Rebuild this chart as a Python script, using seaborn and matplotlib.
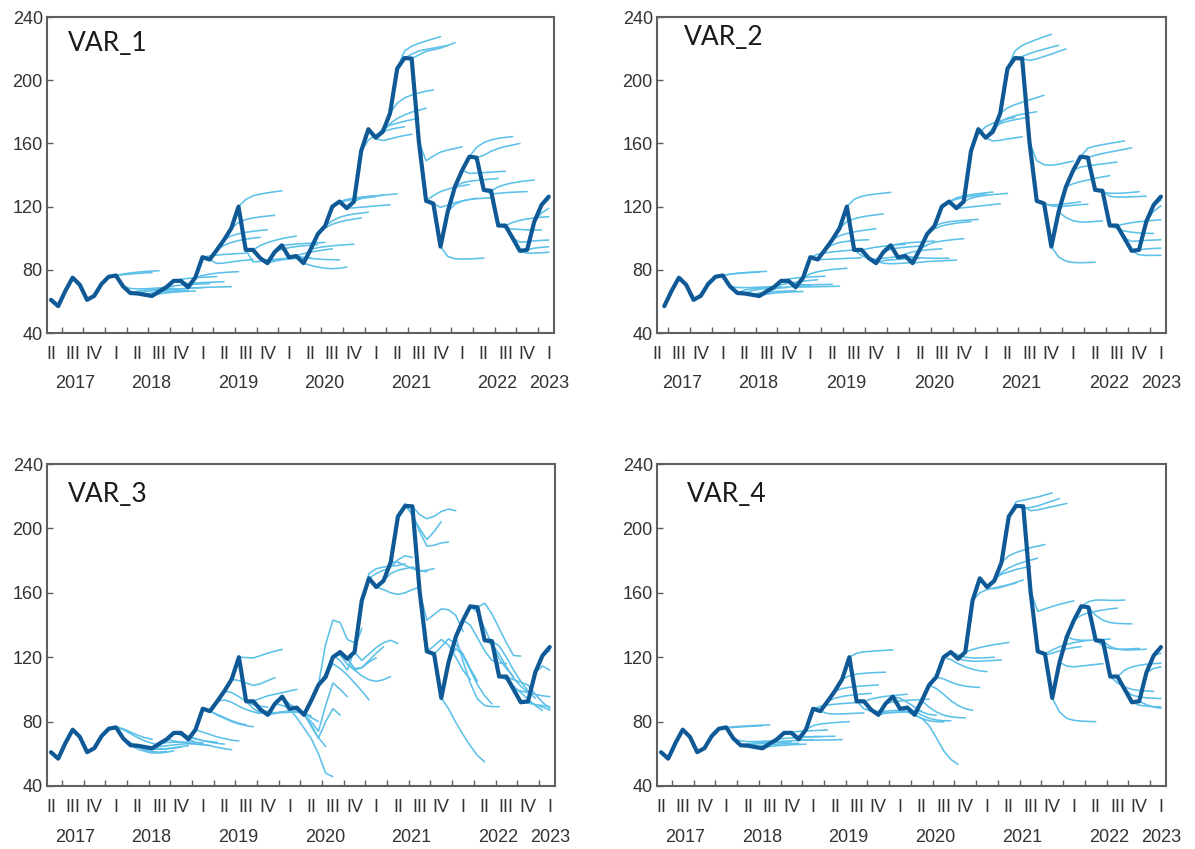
import matplotlib
matplotlib.use("Agg")
import matplotlib.pyplot as plt
import matplotlib.transforms as mtransforms
import pandas as pd
import seaborn as sns

# Monthly observations, April 2017 - January 2023
months = pd.period_range("2017-04", "2023-01", freq="M")
actual = [61.0, 57.0, 66.7, 75.0, 70.5, 61.0, 63.5, 71.0, 75.6, 76.4,
          69.5, 65.3, 65.0, 64.2, 63.4, 66.3, 69.0, 73.0, 73.0, 69.0,
          75.0, 88.0, 86.5, 92.6, 99.0, 106.3, 120.0, 92.6, 92.6, 87.4,
          84.2, 91.2, 95.5, 87.9, 88.7, 84.2, 93.0, 102.7, 107.7, 120.0,
          123.2, 119.0, 123.2, 155.2, 169.0, 163.6, 167.4, 179.0, 207.4, 214.0,
          213.7, 161.0, 123.6, 122.0, 94.7, 116.8, 132.6, 143.0, 151.6, 151.0,
          130.5, 130.0, 108.0, 108.0, 100.0, 92.0, 92.6, 110.5, 121.0, 126.3]

# Forecast origins (month index); each path holds the next six months
fc_origins = list(range(8, 69))

var1_fc = [
    [76.3, 76.9, 77.3, 77.7, 78.0, 78.2], [77.4, 78.0, 78.5, 78.9, 79.2, 79.4],
    [68.2, 67.9, 68.0, 68.2, 68.5, 68.8], [66.4, 67.1, 67.5, 67.8, 68.1, 68.3],
    [66.1, 66.7, 67.1, 67.5, 67.8, 68.0], [65.3, 65.9, 66.3, 66.6, 66.9, 67.1],
    [64.7, 65.4, 65.8, 66.1, 66.4, 66.6], [67.2, 67.7, 68.0, 68.3, 68.5, 68.7],
    [69.8, 70.3, 70.6, 70.9, 71.1, 71.3], [74.0, 74.6, 75.0, 75.3, 75.5, 75.7],
    [71.3, 71.6, 71.9, 72.1, 72.3, 72.5], [68.6, 68.8, 69.0, 69.1, 69.2, 69.3],
    [76.4, 77.3, 77.9, 78.3, 78.6, 78.8], [88.8, 89.3, 89.7, 90.0, 90.3, 90.5],
    [84.0, 84.3, 85.0, 85.6, 86.1, 86.5], [95.6, 97.3, 98.5, 99.4, 100.0, 100.6],
    [101.5, 102.8, 103.7, 104.4, 104.9, 105.4], [110.0, 111.8, 112.8, 113.5, 114.0, 114.5],
    [124.5, 126.8, 127.9, 128.7, 129.4, 130.0], [85.0, 85.3, 86.0, 86.6, 87.0, 87.4],
    [95.3, 97.2, 98.6, 99.7, 100.6, 101.3], [86.0, 86.3, 86.8, 87.2, 87.5, 87.8],
    [85.5, 86.3, 86.8, 87.2, 87.5, 87.7], [93.0, 94.0, 94.7, 95.2, 95.6, 95.9],
    [95.9, 96.3, 96.6, 96.9, 97.1, 97.3], [89.0, 90.2, 91.2, 92.0, 92.7, 93.3],
    [87.8, 87.2, 86.8, 86.5, 86.4, 86.3], [82.8, 81.7, 81.0, 80.7, 81.0, 81.7],
    [94.0, 94.7, 95.2, 95.6, 95.9, 96.2], [106.5, 108.8, 110.3, 111.3, 112.1, 112.8],
    [111.0, 113.2, 114.5, 115.3, 115.9, 116.4], [122.5, 123.8, 124.6, 125.2, 125.8, 126.3],
    [124.5, 125.4, 126.0, 126.5, 126.8, 127.1], [119.2, 119.6, 120.0, 120.4, 120.8, 121.2],
    [125.2, 126.2, 126.8, 127.3, 127.7, 128.1], [162.0, 165.5, 167.5, 168.8, 169.8, 170.5],
    [163.0, 161.8, 162.8, 164.0, 165.0, 165.8], [169.5, 171.5, 172.8, 174.0, 175.0, 176.0],
    [172.5, 175.8, 178.0, 179.8, 181.0, 182.3], [185.5, 188.8, 190.6, 192.0, 193.0, 193.8],
    [218.5, 221.5, 223.3, 224.8, 226.2, 227.6], [216.5, 218.5, 219.5, 220.3, 221.2, 222.0],
    [216.0, 218.3, 219.3, 220.3, 222.0, 223.8], [149.0, 152.0, 154.5, 155.8, 156.8, 157.8],
    [127.0, 129.5, 131.0, 132.2, 133.2, 134.0], [119.5, 121.0, 122.5, 123.6, 124.5, 125.3],
    [88.5, 87.0, 86.8, 86.9, 87.1, 87.4], [121.5, 123.5, 124.5, 125.0, 125.3, 125.5],
    [135.0, 136.0, 136.6, 137.0, 137.4, 137.8], [141.0, 141.2, 141.5, 141.8, 142.1, 142.4],
    [157.5, 160.5, 162.2, 163.2, 163.8, 164.3], [152.5, 155.0, 156.8, 158.0, 159.0, 160.0],
    [128.0, 128.4, 128.8, 129.1, 129.3, 129.5], [132.5, 134.0, 135.0, 135.8, 136.4, 136.8],
    [106.5, 105.8, 105.5, 105.3, 105.2, 105.2], [110.0, 111.3, 112.2, 112.8, 113.3, 113.6],
    [97.5, 97.8, 98.3, 98.6, 98.9], [90.5, 90.6, 90.8, 91.1],
    [93.7, 94.2, 94.6], [116.0, 118.9], [124.5],
]

var2_fc = [
    [76.5, 77.2, 77.7, 78.0, 78.3, 78.5], [77.2, 77.8, 78.2, 78.5, 78.8, 79.0],
    [68.8, 68.7, 68.8, 69.0, 69.2, 69.4], [67.2, 68.0, 68.4, 68.7, 68.9, 69.1],
    [66.8, 67.6, 68.1, 68.4, 68.7, 68.9], [65.4, 65.9, 66.2, 66.4, 66.6, 66.8],
    [64.6, 65.2, 65.6, 65.9, 66.1, 66.3], [67.8, 68.6, 69.1, 69.5, 69.8, 70.0],
    [70.5, 71.5, 72.2, 72.8, 73.3, 73.7], [74.2, 74.8, 75.2, 75.5, 75.7, 75.9],
    [71.0, 70.5, 70.5, 70.6, 70.7, 70.8], [69.1, 69.2, 69.3, 69.4, 69.5, 69.6],
    [77.5, 78.8, 79.6, 80.2, 80.6, 81.0], [89.8, 90.7, 91.3, 91.8, 92.2, 92.5],
    [86.6, 86.8, 87.0, 87.2, 87.4, 87.6], [95.8, 97.3, 98.0, 98.5, 98.8, 99.0],
    [101.5, 103.0, 104.0, 104.8, 105.4, 106.0], [110.5, 112.3, 113.4, 114.2, 114.8, 115.4],
    [124.6, 126.5, 127.4, 128.0, 128.5, 129.0], [89.0, 87.0, 86.8, 87.3, 87.8, 88.3],
    [93.5, 94.3, 94.9, 95.4, 95.8, 96.2], [85.5, 84.2, 83.8, 84.0, 84.3, 84.6],
    [85.8, 86.3, 86.6, 86.8, 87.0, 87.2], [93.0, 93.8, 94.3, 94.7, 95.0, 95.3],
    [96.3, 96.9, 97.3, 97.6, 97.9, 98.2], [90.0, 91.3, 92.1, 92.6, 93.0, 93.3],
    [88.0, 87.6, 87.4, 87.3, 87.3, 87.3], [84.8, 85.2, 85.5, 85.7, 85.9, 86.1],
    [95.8, 97.4, 98.2, 98.8, 99.3, 99.7], [106.0, 107.8, 108.8, 109.5, 110.1, 110.6],
    [109.5, 110.4, 110.9, 111.3, 111.6, 111.9], [123.0, 124.7, 125.8, 126.6, 127.3, 128.0],
    [125.5, 126.8, 127.6, 128.2, 128.7, 129.2], [119.3, 119.8, 120.3, 120.8, 121.3, 121.8],
    [125.3, 126.4, 127.1, 127.6, 128.0, 128.4], [166.0, 170.5, 172.8, 174.3, 175.5, 176.5],
    [163.5, 161.5, 162.0, 162.8, 163.5, 164.2], [170.0, 172.5, 174.0, 175.0, 175.8, 176.5],
    [173.5, 176.0, 177.5, 178.5, 179.3, 180.0], [182.5, 184.5, 186.0, 187.5, 189.0, 190.5],
    [218.5, 222.0, 224.0, 225.8, 227.5, 229.0], [215.0, 216.8, 218.3, 219.6, 220.9, 222.0],
    [212.5, 213.5, 215.0, 216.5, 218.2, 219.8], [149.0, 146.5, 146.2, 146.8, 147.8, 148.8],
    [121.5, 121.0, 121.3, 121.8, 122.4, 123.0], [120.5, 120.0, 120.3, 120.8, 121.2, 121.5],
    [88.0, 85.5, 84.6, 84.5, 84.6, 84.8], [113.0, 111.0, 110.2, 110.3, 110.6, 111.0],
    [134.5, 135.8, 136.8, 137.8, 138.8, 139.6], [145.0, 145.8, 146.4, 147.0, 147.6, 148.2],
    [157.0, 158.3, 159.2, 160.0, 160.8, 161.6], [152.5, 153.6, 154.5, 155.4, 156.3, 157.2],
    [129.0, 128.5, 128.4, 128.6, 129.0, 129.4], [126.5, 126.0, 126.0, 126.2, 126.4, 126.6],
    [106.0, 104.5, 103.8, 103.3, 103.1, 103.0], [109.0, 109.8, 110.4, 110.9, 111.3, 111.7],
    [98.0, 98.3, 98.6, 98.8, 99.0], [89.5, 89.1, 89.1, 89.2],
    [93.2, 93.5, 93.7], [117.0, 120.5], [124.0],
]

var3_fc = [
    [76.8, 75.5, 73.5, 71.5, 70.0, 69.0], [75.0, 72.5, 70.0, 68.0, 66.5, 65.5],
    [67.0, 64.5, 62.5, 61.5, 61.0, 61.5], [63.0, 61.5, 60.5, 60.5, 61.0, 61.8],
    [64.0, 63.0, 62.8, 63.0, 63.5, 64.0], [63.5, 63.0, 63.2, 63.8, 64.5, 65.0],
    [64.5, 65.0, 65.5, 66.0, 66.2, 66.5], [67.0, 67.2, 67.3, 67.2, 67.0, 66.8],
    [68.0, 67.2, 66.5, 66.0, 65.5, 65.2], [71.5, 70.2, 69.2, 68.2, 67.6, 67.2],
    [71.0, 69.5, 68.2, 67.2, 66.5, 66.0], [67.2, 66.0, 65.0, 64.0, 63.2, 62.5],
    [73.5, 72.0, 70.5, 69.5, 68.5, 68.0], [86.5, 84.5, 82.5, 80.5, 79.0, 78.0],
    [84.0, 82.0, 80.0, 78.5, 77.5, 76.8], [93.5, 92.0, 89.5, 87.5, 86.0, 85.0],
    [98.0, 95.5, 92.5, 90.5, 89.5, 89.0], [105.5, 104.0, 102.5, 103.5, 105.5, 107.3],
    [119.8, 119.5, 121.0, 122.5, 123.8, 124.9], [88.0, 85.5, 85.0, 85.5, 86.0, 86.5],
    [94.5, 96.0, 97.0, 98.0, 99.0, 100.0], [86.0, 85.5, 85.5, 85.8, 86.0, 86.2],
    [85.0, 86.0, 86.5, 86.0, 85.0, 83.5], [90.0, 88.5, 87.0, 85.0, 82.5, 80.0],
    [91.0, 88.0, 84.5, 78.0, 70.0, 64.5], [82.5, 76.0, 69.5, 60.0, 48.0, 45.8],
    [85.0, 77.0, 69.7, 80.0, 88.0, 84.0], [80.0, 74.0, 90.0, 104.0, 100.0, 95.5],
    [103.0, 128.0, 143.0, 141.5, 131.0, 129.0], [110.0, 121.0, 118.0, 112.0, 125.0, 138.0],
    [116.0, 113.0, 109.0, 104.0, 99.0, 93.5], [121.5, 115.5, 112.0, 113.5, 117.0, 119.6],
    [119.0, 113.0, 113.5, 118.0, 122.5, 126.4], [112.0, 108.5, 106.0, 105.0, 106.0, 108.0],
    [118.0, 122.0, 126.0, 129.0, 130.5, 128.5], [172.0, 175.0, 176.0, 176.5, 177.0, 178.0],
    [172.0, 174.0, 176.0, 180.5, 183.0, 182.0], [162.0, 160.0, 159.0, 160.0, 162.0, 163.5],
    [172.0, 174.0, 175.0, 176.0, 174.0, 173.0], [179.0, 177.0, 175.0, 173.5, 174.0, 175.0],
    [215.5, 208.0, 200.0, 193.0, 198.0, 204.2], [209.0, 198.0, 189.0, 189.5, 191.0, 191.5],
    [208.5, 206.0, 207.5, 210.5, 212.0, 211.0], [143.0, 146.5, 150.0, 149.5, 146.0, 136.0],
    [127.0, 131.0, 127.5, 120.0, 112.0, 106.0], [126.5, 131.5, 128.0, 122.0, 113.0, 105.0],
    [88.0, 79.5, 72.0, 65.0, 59.0, 55.0], [125.5, 121.0, 112.0, 103.0, 96.0, 91.0],
    [117.5, 104.0, 94.0, 90.0, 89.3, 89.3], [140.0, 132.0, 124.0, 118.0, 116.5, 116.0],
    [148.0, 138.0, 128.0, 119.0, 113.0, 108.0], [153.5, 147.0, 138.0, 129.0, 121.0, 120.7],
    [128.0, 122.0, 114.0, 107.0, 102.0, 98.0], [127.0, 120.0, 112.0, 105.0, 99.0, 94.5],
    [106.0, 102.0, 98.0, 94.0, 90.0, 86.8], [106.0, 104.5, 102.7, 97.0, 92.0, 88.3],
    [99.0, 98.0, 97.0, 96.0, 95.5], [91.5, 90.5, 90.0, 89.3],
    [90.5, 89.0, 87.2], [114.5, 112.0], [124.0],
]

var4_fc = [
    [76.0, 76.4, 76.7, 77.0, 77.2, 77.4], [76.8, 77.1, 77.4, 77.6, 77.8, 78.0],
    [68.0, 67.6, 67.6, 67.8, 68.0, 68.2], [66.3, 66.8, 67.1, 67.3, 67.5, 67.7],
    [66.0, 66.5, 66.8, 67.0, 67.2, 67.4], [65.2, 65.7, 66.0, 66.2, 66.4, 66.6],
    [64.5, 65.0, 65.3, 65.6, 65.8, 66.0], [67.3, 67.8, 68.1, 68.4, 68.6, 68.8],
    [69.5, 69.9, 70.2, 70.4, 70.6, 70.8], [73.5, 73.9, 74.2, 74.4, 74.6, 74.8],
    [71.0, 70.6, 70.6, 70.7, 70.8, 70.9], [68.6, 68.5, 68.5, 68.6, 68.7, 68.8],
    [77.5, 78.5, 79.0, 79.4, 79.7, 80.0], [89.5, 90.3, 90.8, 91.2, 91.5, 91.8],
    [85.0, 84.7, 84.8, 85.0, 85.2, 85.4], [94.5, 95.6, 96.3, 96.8, 97.2, 97.5],
    [100.5, 101.3, 101.8, 102.2, 102.5, 102.8], [108.5, 109.5, 110.0, 110.3, 110.5, 110.7],
    [122.5, 123.3, 123.7, 124.0, 124.3, 124.6], [88.0, 86.5, 86.3, 86.5, 86.8, 87.0],
    [94.0, 95.0, 95.7, 96.2, 96.6, 97.0], [86.0, 85.6, 85.6, 85.8, 86.0, 86.2],
    [85.2, 85.7, 86.0, 86.2, 86.4, 86.6], [92.2, 92.8, 93.2, 93.5, 93.7, 93.9],
    [94.5, 92.0, 89.0, 86.0, 84.5, 84.0], [86.0, 84.0, 82.0, 80.5, 80.0, 79.8],
    [86.5, 84.0, 82.0, 81.0, 80.5, 80.5], [82.0, 77.5, 70.0, 62.0, 56.5, 53.5],
    [89.0, 86.0, 84.0, 83.0, 82.5, 82.3], [100.5, 97.0, 93.0, 90.0, 88.0, 87.0],
    [106.5, 104.5, 103.0, 102.0, 101.5, 101.2], [118.5, 116.0, 114.0, 112.5, 111.5, 111.0],
    [121.5, 120.0, 119.5, 119.5, 119.7, 120.0], [118.0, 117.5, 117.5, 117.8, 118.0, 118.3],
    [124.8, 126.0, 127.0, 127.8, 128.5, 129.2], [160.0, 162.0, 163.0, 164.0, 165.0, 166.0],
    [163.0, 162.5, 163.5, 165.0, 166.5, 168.0], [169.0, 171.5, 173.0, 174.5, 175.5, 176.5],
    [172.5, 175.5, 177.5, 179.0, 180.3, 181.5], [183.0, 185.0, 186.5, 188.0, 189.0, 190.0],
    [216.5, 217.5, 218.5, 219.5, 220.8, 222.0], [212.5, 213.0, 214.0, 215.5, 217.0, 218.5],
    [211.0, 211.5, 212.5, 213.5, 214.5, 215.5], [148.5, 150.0, 151.5, 152.8, 154.0, 155.0],
    [121.5, 122.5, 124.0, 125.2, 126.0, 126.6], [124.5, 126.5, 128.0, 129.0, 129.8, 130.5],
    [86.0, 82.0, 80.8, 80.3, 80.1, 80.0], [114.5, 114.0, 114.5, 115.0, 115.5, 116.0],
    [131.0, 130.5, 130.5, 130.8, 131.0, 131.3], [146.0, 147.5, 148.5, 149.3, 150.0, 150.5],
    [154.5, 155.5, 155.5, 155.3, 155.3, 155.5], [146.0, 143.0, 141.5, 141.0, 140.8, 140.7],
    [127.0, 125.5, 125.0, 125.0, 125.2, 125.5], [126.5, 125.0, 124.5, 124.5, 124.7, 125.0],
    [104.0, 101.5, 100.0, 99.3, 99.0, 98.8], [112.0, 114.0, 115.0, 115.6, 116.0, 116.3],
    [96.5, 95.3, 94.8, 94.5, 94.3], [90.2, 89.6, 89.3, 89.1],
    [90.5, 89.0, 88.3], [113.0, 114.0], [122.5],
]

panel_titles = ["VAR_1", "VAR_2", "VAR_3", "VAR_4"]
panel_forecasts = [var1_fc, var2_fc, var3_fc, var4_fc]
panel_first_obs = [0, 1, 0, 0]

quarter_labels = ["I", "II", "III", "IV"]
y_ticks = [40, 80, 120, 160, 200, 240]

DARK = "#0f5a96"
LIGHT = "#5cc0e8"
FRAME = "#5f5f5f"
TEXT = "#333333"
TICK_FS = 13

sns.set_theme(style="white")
plt.rcParams["font.family"] = ["Liberation Sans", "DejaVu Sans"]

fig = plt.figure(figsize=(11.95, 8.49), dpi=100)
W, H = 1195.0, 849.0
# (left, top, right, bottom) in pixels
boxes = [(47, 17, 554, 333), (657, 17, 1166, 333),
         (47, 464, 555, 786), (657, 464, 1166, 786)]
xlims = [(-0.55, 69.73), (0.45, 69.7), (-0.55, 69.73), (-0.55, 69.7)]
title_pos = [(0.042, 0.915), (0.052, 0.935), (0.042, 0.905), (0.058, 0.905)]

n = len(months)
month_idx = list(range(n))


def forecast_frame(paths):
    rows = []
    for origin, path in zip(fc_origins, paths):
        horizon = min(len(path), n - 1 - origin)
        seq = [actual[origin]] + list(path[:horizon])
        for step, val in enumerate(seq):
            rows.append({"origin": origin, "m": origin + step, "v": val})
    return pd.DataFrame(rows)


for k in range(4):
    l, t, r, b = boxes[k]
    ax = fig.add_axes([l / W, 1 - b / H, (r - l) / W, (b - t) / H])

    fc = forecast_frame(panel_forecasts[k])
    sns.lineplot(data=fc, x="m", y="v", units="origin", estimator=None,
                 color=LIGHT, lw=1.15, ax=ax, legend=False)

    start = panel_first_obs[k]
    obs = pd.DataFrame({"m": month_idx[start:], "v": actual[start:]})
    sns.lineplot(data=obs, x="m", y="v", color=DARK, lw=3.0, ax=ax,
                 legend=False, solid_joinstyle="round")

    ax.set_xlim(*xlims[k])
    ax.set_ylim(40, 240)
    ax.set_yticks(y_ticks)
    ax.set_xlabel("")
    ax.set_ylabel("")

    # quarter labels at the first month of each quarter
    q_pos = [i for i, p in enumerate(months) if p.month in (1, 4, 7, 10)]
    q_lab = [quarter_labels[(months[i].month - 1) // 3] for i in q_pos]
    ax.set_xticks(q_pos)
    ax.set_xticklabels(q_lab)
    ax.set_xticks([p + 1.5 for p in q_pos if p + 1.5 < n - 1], minor=True)
    for lab in ax.get_xticklabels():
        lab.set_clip_on(False)

    ax.tick_params(axis="x", which="major", bottom=True, length=0, pad=9.5,
                   labelsize=TICK_FS, labelcolor=TEXT)
    ax.tick_params(axis="x", which="minor", bottom=True, direction="in",
                   length=4, width=1.0, color=FRAME)
    ax.tick_params(axis="y", left=True, direction="in", length=4, width=1.0,
                   color=FRAME, labelsize=TICK_FS, labelcolor=TEXT, pad=3)

    for sp in ax.spines.values():
        sp.set_visible(True)
        sp.set_color(FRAME)
        sp.set_linewidth(1.5)

    # year labels below the quarter row
    years = sorted(set(p.year for p in months))
    trans = mtransforms.offset_copy(ax.get_xaxis_transform(), fig=fig,
                                    y=-0.51, units="inches")
    for yr in years:
        idx = [i for i, p in enumerate(months) if p.year == yr]
        pos = sum(idx) / len(idx) - (0.6 if len(idx) > 1 else 0)
        ax.text(pos, 0, str(yr), transform=trans, ha="center", va="center",
                fontsize=TICK_FS, color=TEXT, clip_on=False)

    tx, ty = title_pos[k]
    ax.text(tx, ty, panel_titles[k], transform=ax.transAxes, ha="left",
            va="center", fontsize=19, color="#1a1a1a",
            family=["Lato", "DejaVu Sans"])

fig.savefig("out.png", dpi=100)
